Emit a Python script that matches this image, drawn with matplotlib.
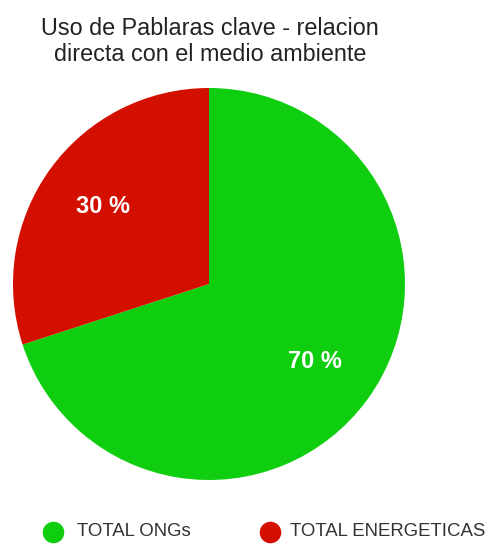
import matplotlib
matplotlib.use("Agg")
import matplotlib.pyplot as plt
from matplotlib.lines import Line2D

# Data
categories = ["TOTAL ONGs", "TOTAL ENERGETICAS"]
shares = [70, 30]
colors = ["#0fcd0f", "#d30f00"]
title = "Uso de Pablaras clave - relacion\ndirecta con el medio ambiente"

W, H = 490, 545
fig = plt.figure(figsize=(W / 100, H / 100), dpi=100)
fig.patch.set_facecolor("white")
font = ["Liberation Sans", "DejaVu Sans"]

# Pie area: square box in pixels
cx, cy, r = 209, 284, 196
ax = fig.add_axes([(cx - r) / W, (H - cy - r) / H, 2 * r / W, 2 * r / H])
wedges, texts, autotexts = ax.pie(
    shares,
    colors=colors,
    startangle=90,
    counterclock=False,
    radius=1,
    autopct=lambda p: f"{p:.0f} %",
    pctdistance=0.67,
    wedgeprops=dict(linewidth=0),
    textprops=dict(color="white", fontsize=17, fontweight="bold", family=font),
)
ax.set_xlim(-1, 1)
ax.set_ylim(-1, 1)
ax.set_aspect("equal")
ax.axis("off")

# Title (baseline of the second line)
fig.text(210 / W, 1 - 61 / H, title, ha="center", va="baseline",
         fontsize=16.8, color="#222222", family=font, linespacing=1.15)

# Legend row
legend_y = 1 - 532 / H
marker_x = [53, 270]
text_x = [77, 290]
for name, col, mx, tx in zip(categories, colors, marker_x, text_x):
    fig.add_artist(Line2D([mx / W], [legend_y], marker="o", markersize=14.5,
                          color=col, linestyle="", transform=fig.transFigure))
    fig.text(tx / W, legend_y, name, ha="left", va="center",
             fontsize=13.4, color="#333333", family=font)

fig.savefig("out.png", dpi=100, facecolor="white")
